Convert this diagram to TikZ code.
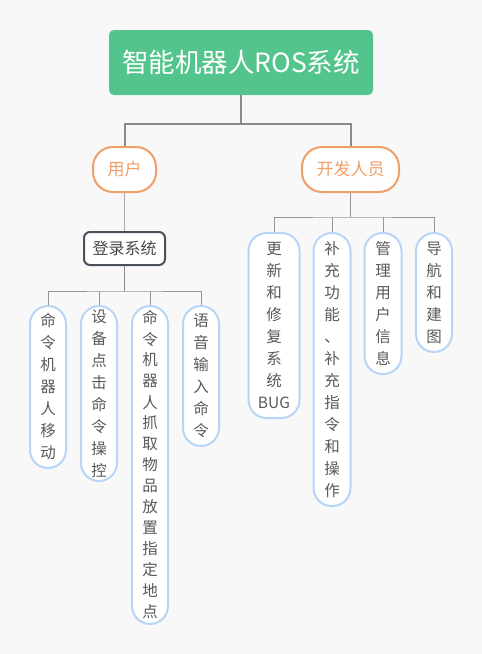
\documentclass[tikz,border=0pt]{standalone}
\usepackage{fontspec}
\setmainfont{Noto Sans CJK SC}
\definecolor{bgc}{HTML}{F8F8F8}
\definecolor{rootc}{HTML}{52C48C}
\definecolor{orc}{HTML}{F09F68}
\definecolor{bluec}{HTML}{B8D5F8}
\definecolor{darkc}{HTML}{4A505C}
\definecolor{txtc}{HTML}{595959}
\definecolor{linec}{HTML}{8A8A8A}
\tikzset{
  rootbox/.style={fill=rootc, draw=none, rounded corners=5pt, minimum width=264pt, minimum height=65pt, inner sep=0pt, text=white, font=\fontsize{26.5}{30}\selectfont},
  lvlone/.style={fill=white, draw=orc, line width=2pt, rounded corners=20pt, minimum height=45pt, inner sep=0pt, text=orc, font=\fontsize{17}{20}\selectfont},
  loginbox/.style={fill=white, draw=darkc, line width=2pt, rounded corners=6pt, minimum width=81pt, minimum height=33pt, inner sep=0pt, text=txtc!80!black, font=\fontsize{16}{20}\selectfont},
  leaf/.style={fill=white, draw=bluec, line width=2pt, rounded corners=18pt, inner sep=0pt, anchor=north, align=center, text=txtc, font=\fontsize{15.5}{22}\selectfont},
  mainline/.style={draw=linec, line width=2pt},
  subline/.style={draw=linec!90, line width=1pt},
  midline/.style={draw=linec, line width=1.6pt}
}
\begin{document}
\begin{tikzpicture}[x=1pt,y=-1pt]
\fill[bgc] (0,0) rectangle (482,654);
\useasboundingbox (0,0) rectangle (482,654);

\node[rootbox] (root) at (241,62.5) {智能机器人ROS系统};
\node[lvlone, minimum width=63pt] (u) at (124.5,169.5) {用户};
\node[lvlone, minimum width=97pt] (d) at (350.5,169.5) {开发人员};
\node[loginbox] (login) at (124.5,248.5) {登录系统};

\node[leaf, minimum width=36pt, minimum height=162pt] (l1) at (48,305) {命\\令\\机\\器\\人\\移\\动};
\node[leaf, minimum width=36pt, minimum height=175pt] (l2) at (99,305) {设\\备\\点\\击\\命\\令\\操\\控};
\node[leaf, minimum width=36pt, minimum height=318pt, font=\fontsize{15.5}{21}\selectfont] (l3) at (150,305) {命\\令\\机\\器\\人\\抓\\取\\物\\品\\放\\置\\指\\定\\地\\点};
\node[leaf, minimum width=36pt, minimum height=140pt] (l4) at (201,305) {语\\音\\输\\入\\命\\令};

\node[leaf, minimum width=51pt, minimum height=185pt] (r1) at (274,232) {更\\新\\和\\修\\复\\系\\统\\BUG};
\node[leaf, minimum width=37pt, minimum height=273pt] (r2) at (332,232) {补\\充\\功\\能\\、\\补\\充\\指\\令\\和\\操\\作};
\node[leaf, minimum width=37pt, minimum height=141pt] (r3) at (383,232) {管\\理\\用\\户\\信\\息};
\node[leaf, minimum width=36pt, minimum height=119pt] (r4) at (434,232) {导\\航\\和\\建\\图};

\coordinate (j1) at (241,124);
\draw[mainline] (root.south) -- (j1);
\draw[mainline] (u.north) |- (j1) -| (d.north);

\draw[draw=linec!70, line width=1.5pt] (u.south) -- (login.north);

\coordinate (j2) at (124.5,291);
\draw[midline] (login.south) -- (j2);
\draw[subline] (l1.north) |- (j2) -| (l4.north);
\draw[subline] (l2.north) -- (l2.north |- j2);
\draw[subline] (l3.north) -- (l3.north |- j2);

\coordinate (j3) at (350.5,217);
\draw[subline] (d.south) -- (j3);
\draw[subline] (r1.north) |- (j3) -| (r4.north);
\draw[subline] (r2.north) -- (r2.north |- j3);
\draw[subline] (r3.north) -- (r3.north |- j3);
\end{tikzpicture}
\end{document}
